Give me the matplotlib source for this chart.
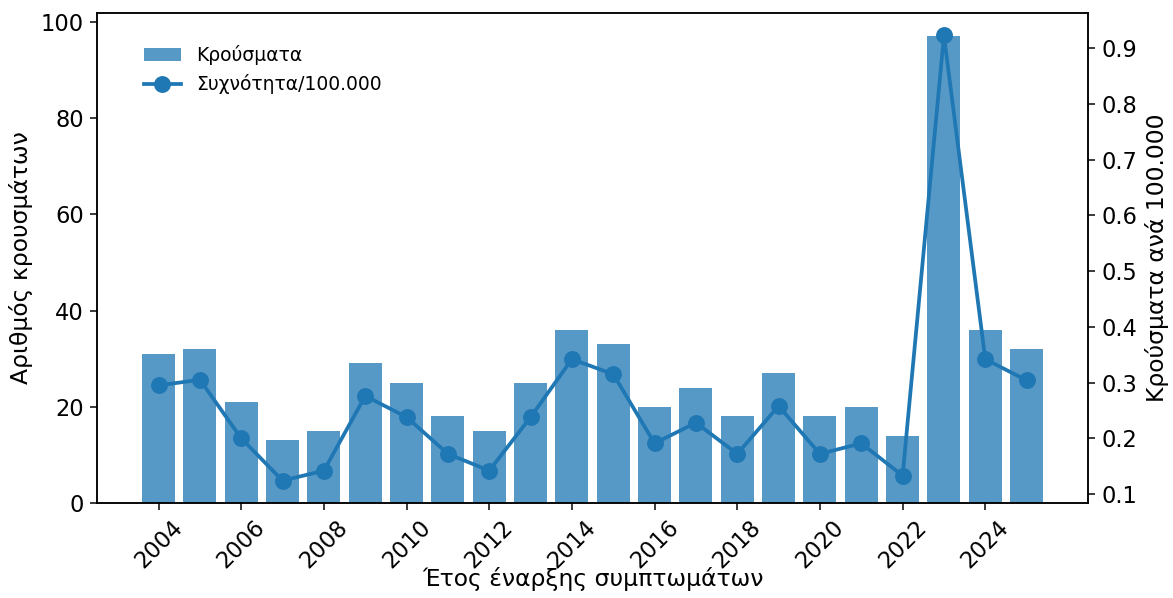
import matplotlib.pyplot as plt

years = list(range(2004, 2026))
cases = [31, 32, 21, 13, 15, 29, 25, 18, 15, 25, 36, 33, 20, 24, 18, 27, 18, 20, 14, 97, 36, 32]
rate = [0.295, 0.305, 0.200, 0.124, 0.142, 0.276, 0.238, 0.172, 0.142, 0.238, 0.342, 0.315,
        0.191, 0.228, 0.172, 0.258, 0.172, 0.191, 0.133, 0.923, 0.342, 0.304]
xticks = list(range(2004, 2025, 2))

# the reference looks like a default-styled figure rendered at ~135 dpi
dpi = 135
fig = plt.figure(figsize=(1173 / dpi, 598 / dpi), dpi=dpi)
ax = fig.add_axes([0.0827, 0.159, 0.845, 0.819])
ax2 = ax.twinx()

bars = ax.bar(years, cases, width=0.8, color="tab:blue", alpha=0.75, label="Κρούσματα")
line, = ax2.plot(years, rate, color="tab:blue", marker="o", linewidth=2, markersize=8,
                 label="Συχνότητα/100.000")

ax.set_xticks(xticks)
ax.set_xticklabels([str(y) for y in xticks], rotation=45)
ax.tick_params(labelsize=12)
ax2.tick_params(labelsize=12)
ax.set_ylabel("Αριθμός κρουσμάτων", fontsize=12.5)
ax2.set_ylabel("Κρούσματα ανά 100.000", fontsize=12.5)
# pulled up a little so the label is not clipped by the figure edge
ax.set_xlabel("Έτος έναρξης συμπτωμάτων", fontsize=12.5, labelpad=-3)

ax.legend([bars, line], ["Κρούσματα", "Συχνότητα/100.000"], loc="upper left",
          bbox_to_anchor=(0.03, 0.97), frameon=False)

fig.savefig("out.png", dpi=dpi)
